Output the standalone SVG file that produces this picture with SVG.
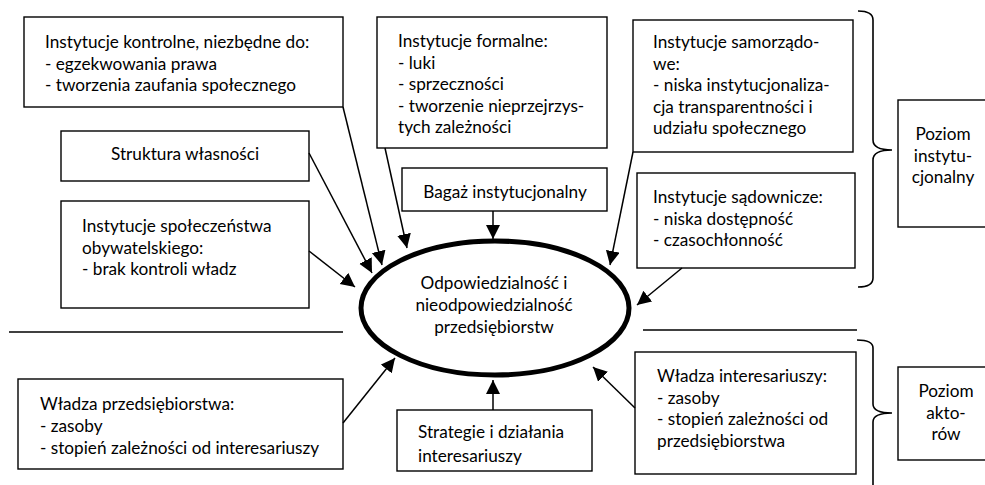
<svg xmlns="http://www.w3.org/2000/svg" width="985" height="485" viewBox="0 0 985 485">
<defs>
<style>
.box{fill:#fff;stroke:#000;stroke-width:1.4}
.t{font-family:Lato,"Open Sans","Liberation Sans",sans-serif;font-size:17.2px;fill:#000}
.c{text-anchor:middle}
.conn line,.conn path{stroke:#000;stroke-width:1.5;fill:none}
.sep{stroke:#000;stroke-width:1.6}
</style>
<marker id="ah" markerUnits="userSpaceOnUse" markerWidth="16" markerHeight="16" refX="14" refY="7" orient="auto">
<path d="M0,0 L14,7 L0,14 Z" fill="#000"/>
</marker>
</defs>
<rect width="985" height="485" fill="#fff"/>

<g id="n-kontrolne">
<rect class="box" x="24" y="17" width="319" height="90"/>
<text class="t" x="45" y="48">Instytucje kontrolne, niezbędne do:</text>
<text class="t" x="45" y="69.5">- egzekwowania prawa</text>
<text class="t" x="45" y="91">- tworzenia zaufania społecznego</text>
</g>

<g id="n-struktura">
<rect class="box" x="61" y="131" width="248" height="50"/>
<text class="t c" x="185" y="160">Struktura własności</text>
</g>

<g id="n-spoleczenstwo">
<rect class="box" x="61" y="201" width="248" height="107"/>
<text class="t" x="82" y="232">Instytucje społeczeństwa</text>
<text class="t" x="82" y="253.5">obywatelskiego:</text>
<text class="t" x="82" y="275">- brak kontroli władz</text>
</g>

<g id="n-formalne">
<rect class="box" x="377" y="17" width="230" height="131"/>
<text class="t" x="398" y="47">Instytucje formalne:</text>
<text class="t" x="398" y="68.5">- luki</text>
<text class="t" x="398" y="90">- sprzeczności</text>
<text class="t" x="398" y="111.5">- tworzenie nieprzejrzys-</text>
<text class="t" x="398" y="133">tych zależności</text>
</g>

<g id="n-bagaz">
<rect class="box" x="402" y="168" width="205" height="43"/>
<text class="t c" x="505" y="198">Bagaż instytucjonalny</text>
</g>

<g id="n-samorzadowe">
<rect class="box" x="633" y="20" width="220" height="132"/>
<text class="t" x="653" y="48">Instytucje samorządo-</text>
<text class="t" x="653" y="69.5">we:</text>
<text class="t" x="653" y="91">- niska instytucjonaliza-</text>
<text class="t" x="653" y="112.5">cja transparentności i</text>
<text class="t" x="653" y="134">udziału społecznego</text>
</g>

<g id="n-sadownicze">
<rect class="box" x="637" y="173" width="218" height="95"/>
<text class="t" x="653" y="203">Instytucje sądownicze:</text>
<text class="t" x="653" y="224.5">- niska dostępność</text>
<text class="t" x="653" y="246">- czasochłonność</text>
</g>

<g id="n-poziom-inst">
<rect class="box" x="898" y="100" width="95" height="127"/>
<text class="t c" x="943" y="140">Poziom</text>
<text class="t c" x="943" y="161.5">instytu-</text>
<text class="t c" x="943" y="183">cjonalny</text>
</g>

<g id="n-center">
<ellipse cx="495" cy="308" rx="134" ry="67" fill="#fff" stroke="#000" stroke-width="5"/>
<text class="t c" x="494" y="289">Odpowiedzialność i</text>
<text class="t c" x="494" y="311">nieodpowiedzialność</text>
<text class="t c" x="494" y="333">przedsiębiorstw</text>
</g>

<g id="n-wladza-przeds">
<rect class="box" x="18" y="379" width="325" height="90"/>
<text class="t" x="40" y="410">Władza przedsiębiorstwa:</text>
<text class="t" x="40" y="432">- zasoby</text>
<text class="t" x="40" y="454">- stopień zależności od interesariuszy</text>
</g>

<g id="n-strategie">
<rect class="box" x="397" y="410" width="195" height="61"/>
<text class="t" x="418" y="438">Strategie i działania</text>
<text class="t" x="418" y="462">interesariuszy</text>
</g>

<g id="n-wladza-inter">
<rect class="box" x="635" y="352" width="221" height="122"/>
<text class="t" x="657" y="382">Władza interesariuszy:</text>
<text class="t" x="657" y="403.5">- zasoby</text>
<text class="t" x="657" y="425">- stopień zależności od</text>
<text class="t" x="657" y="447">przedsiębiorstwa</text>
</g>

<g id="n-poziom-akt">
<rect class="box" x="898" y="367" width="95" height="93"/>
<text class="t c" x="946" y="397">Poziom</text>
<text class="t c" x="946" y="418.5">akto-</text>
<text class="t c" x="946" y="440">rów</text>
</g>

<g id="separators">
<line class="sep" x1="9" y1="332" x2="343" y2="332"/>
<line class="sep" x1="643" y1="330" x2="857" y2="330"/>
<path d="M858,11 Q873,11 873,20 L873,140 Q873,150 892,150 Q873,150 873,160 L873,278 Q873,287 858,287" fill="none" stroke="#000" stroke-width="1.6"/>
<path d="M857,340 Q873,340 873,348 L873,404 Q873,413 892,413 Q873,413 873,422 L873,490" fill="none" stroke="#000" stroke-width="1.6"/>
</g>

<g class="conn" id="connectors">
<line x1="343" y1="107" x2="382" y2="265" marker-end="url(#ah)"/>
<line x1="309" y1="153" x2="372" y2="273" marker-end="url(#ah)"/>
<line x1="309" y1="251" x2="355" y2="287" marker-end="url(#ah)"/>
<line x1="385" y1="148" x2="407" y2="248" marker-end="url(#ah)"/>
<line x1="493" y1="211" x2="493" y2="239" marker-end="url(#ah)"/>
<line x1="633" y1="152" x2="610" y2="265" marker-end="url(#ah)"/>
<line x1="682" y1="268" x2="637" y2="305" marker-end="url(#ah)"/>
<line x1="343" y1="423" x2="395" y2="358" marker-end="url(#ah)"/>
<line x1="493" y1="410" x2="493" y2="380" marker-end="url(#ah)"/>
<line x1="635" y1="408" x2="593" y2="367" marker-end="url(#ah)"/>
</g>
</svg>
